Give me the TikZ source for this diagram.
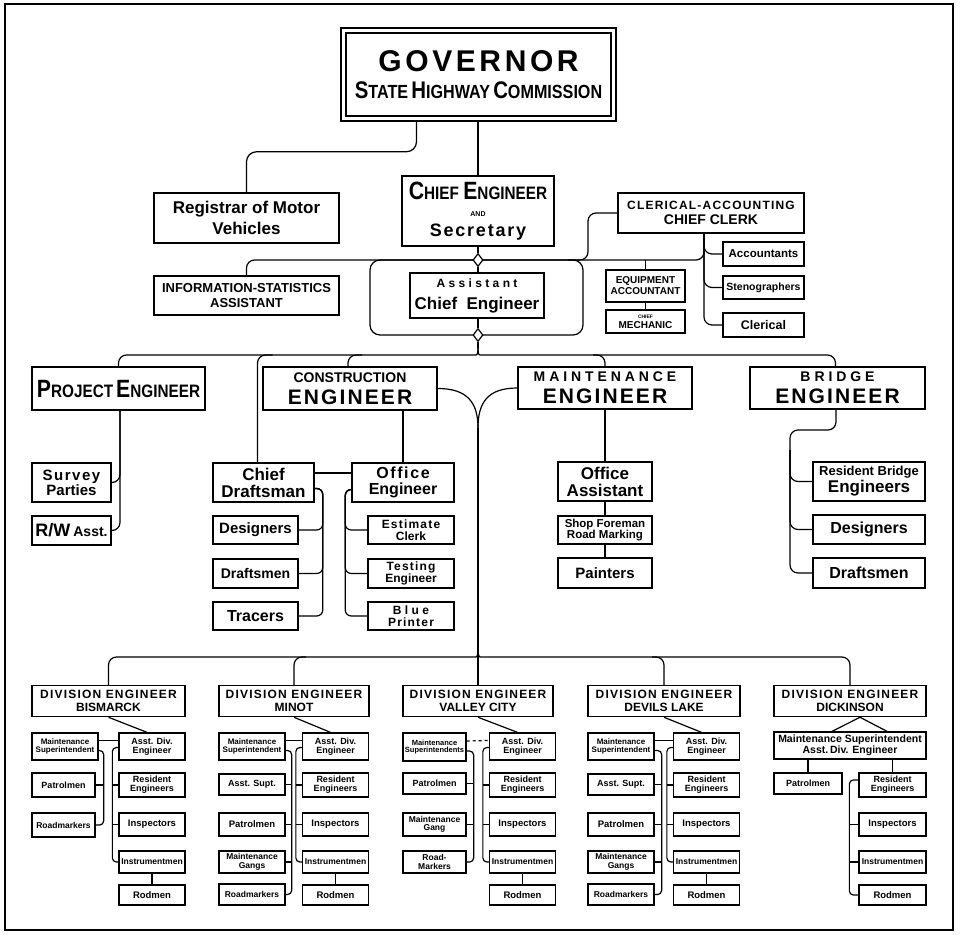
\documentclass[tikz,border=0pt]{standalone}
\usepackage{fontspec}
\newfontfamily\chartfont{Liberation Sans}
\newfontfamily\narrowfont{Liberation Sans}[FakeStretch=0.85]
\newfontfamily\spacedfont{Liberation Sans}[LetterSpace=10]
\newfontfamily\widefont{Liberation Sans}[LetterSpace=28]
\newfontfamily\govfont{Liberation Sans}[LetterSpace=12]
\newcommand\tsz[1]{\fontsize{#1}{#1}\selectfont}
\usepackage{tikz}
\usetikzlibrary{positioning,shapes.geometric}

\begin{document}
\begin{tikzpicture}[
    x=1pt, y=-1pt,
    box/.style={draw, line width=1.5pt, fill=white, align=center, inner sep=0pt},  % every office
    small/.style={box, line width=1.3pt},                                           % division offices
    fsz/.style={font=\chartfont\bfseries\tsz{#1}},                                  % lettering size
    sz/.style 2 args={minimum width=#1pt, minimum height=#2pt},                     % box size
    link/.style={line width=1.2pt},                                                 % plain connector
    elbow/.style={link, rounded corners=8pt},                                       % connector with round turns
    junction/.style={diamond, draw, line width=1.2pt, fill=white, minimum width=10pt, minimum height=13pt, inner sep=0pt}
    ]
    \useasboundingbox (0,0) rectangle (960,934);
    \draw[line width=1.5pt] (5,4) rectangle (953,930);

    % Top of the chart
    \node[box, double, double distance=3.5pt, outer sep=3.25pt, sz={270}{88}, fsz=18] (gov) at (478.5,74.5)
        {{\govfont\tsz{30}GOVERNOR}\\[9pt]{\narrowfont\tsz{24}S\tsz{19}TATE\,\tsz{24}H\tsz{19}IGHWAY\,\tsz{24}C\tsz{19}OMMISSION}};
    \node[box, sz={152}{70}, fsz=16] (chief) at (478,211)
        {{\narrowfont\tsz{25}C\tsz{18}HIEF \tsz{25}E\tsz{18}NGINEER}\\[1pt]{\tsz{7}AND}\\[4pt]{\spacedfont\tsz{18}Secretary}};
    \node[box, sz={185}{50}, fsz=17] (reg) at (246.5,218) {Registrar of Motor\\[4pt]Vehicles};
    \node[box, sz={186}{40}, fsz=12] (cler) at (711,213) {{\spacedfont CLERICAL-ACCOUNTING}\\[3pt]{\tsz{14}CHIEF CLERK}};
    \node[box, sz={185}{39}, fsz=13] (info) at (246.5,295.5) {INFORMATION-STATISTICS\\[2pt]ASSISTANT};
    \node[box, sz={134}{45}, fsz=17] (asst) at (477,295.5) {{\widefont\tsz{12}Assistant}\\[5pt]Chief\ \ Engineer};
    \node[box, sz={79}{32}, fsz=10] (equip) at (645.5,286) {EQUIPMENT\\[1pt]ACCOUNTANT};
    \node[box, sz={79}{23}, fsz=10] (mech) at (645.5,321.5) {{\tsz{5}CHIEF}\\MECHANIC};
    \node[box, sz={81}{24}, fsz=11.5] (acct) at (763.5,254) {Accountants};
    \node[box, sz={81}{23}, fsz=10.5] (steno) at (763.5,287.5) {Stenographers};
    \node[box, sz={81}{24}, fsz=12.5] (cleric) at (763.5,325) {Clerical};

    % Hub round the assistant chief engineer
    \coordinate (hubNW) at (370,260);
    \coordinate (hubSE) at (583,335);
    \coordinate (hubE) at (588,260);
    \coordinate (tip1) at (478,348);
    \coordinate (mainL) at (468,355);
    \coordinate (mainR) at (488,355);

    \draw[elbow, rounded corners=10pt] ([xshift=-62pt]gov.south) -- ++(0,30) -| (reg.north);
    \draw[link] (gov.south -| chief.north) -- (chief.north);
    \draw[link, rounded corners=10pt] (hubNW) rectangle (hubSE);
    \draw[elbow] (info.north) |- (hubE) |- (cler.west);
    \draw[elbow] ([xshift=-20pt]hubE) -| ([xshift=-7pt]cler.south);
    \draw[elbow] ([xshift=-7pt]cler.south) |- (cleric.west);
    \draw[elbow] ([xshift=-7pt]cler.south) |- (acct.west);
    \draw[elbow] ([xshift=-7pt]cler.south) |- (steno.west);
    \draw[link] (equip.north |- hubE) -- (equip.north);
    \draw[link] (equip) -- (mech);
    \node[junction] (j1) at (478,260) {};
    \node[junction] (j2) at (478,335) {};
    \draw[link] (chief) -- (j1);
    \draw[link] (j1.south) -- (j1.south |- asst.north);
    \draw[link] (j2.north |- asst.south) -- (j2.north);
    \draw[link] (j2.south) -- (tip1);

    % Second level
    \node[box, sz={173}{43}, fsz=18] (proj) at (118.5,388.5)
        {\narrowfont\tsz{25}P\tsz{18}ROJECT\,\tsz{25}E\tsz{18}NGINEER};
    \node[box, sz={174}{43}, fsz=14] (cons) at (350,388.5)
        {CONSTRUCTION\\[6pt]{\spacedfont\tsz{21}ENGINEER}};
    \node[box, sz={174}{42}, fsz=14] (maint) at (605,388)
        {{\widefont MAINTENANCE}\\[6pt]{\spacedfont\tsz{21}ENGINEER}};
    \node[box, sz={175}{42}, fsz=14] (bri) at (837.5,388)
        {{\widefont BRIDGE}\\[6pt]{\spacedfont\tsz{21}ENGINEER}};

    \draw[elbow] (proj.north) |- (mainL) .. controls +(8,0) and +(0,8) .. (tip1);
    \draw[elbow] ([xshift=-2pt]bri.north) |- (mainR) .. controls +(-8,0) and +(0,8) .. (tip1);
    \draw[elbow] ([xshift=-12pt]maint.north |- mainL) -| (maint.north);

    % Project engineer
    \node[box, sz={79}{39}, fsz=15] (survey) at (71.5,482.5) {\spacedfont Survey\\Parties};
    \node[box, sz={79}{29}, fsz=18] (rw) at (71.5,530.5) {R/W\,{\tsz{14}Asst.}};
    \draw[elbow] ([xshift=1.5pt]proj.south) |- (survey.east);
    \draw[elbow] ([xshift=1.5pt]proj.south) |- (rw.east);

    % Construction engineer
    \node[box, sz={101}{39}, fsz=17] (cd) at (263.5,482.5) {Chief\\Draftsman};
    \node[box, sz={102}{39}, fsz=16] (oe) at (403,482.5) {\spacedfont Office\\Engineer};
    \node[box, sz={85}{28}, fsz=15] (des) at (255.5,530) {Designers};
    \node[box, sz={85}{29}, fsz=14] (dra) at (255.5,573.5) {Draftsmen};
    \node[box, sz={85}{28}, fsz=16] (tra) at (255.5,616) {Tracers};
    \node[box, sz={86}{28}, fsz=12] (est) at (411,530) {\spacedfont Estimate\\Clerk};
    \node[box, sz={86}{29}, fsz=12] (test) at (411,573.5) {\spacedfont Testing\\Engineer};
    \node[box, sz={86}{28}, fsz=12] (blue) at (411,616) {{\widefont Blue}\\{\spacedfont Printer}};
    \draw[elbow] ([xshift=-6pt]cd.north) |- ([xshift=9pt]cd.north |- mainL);
    \draw[elbow] ([xshift=-2pt]cons.north) |- ([xshift=12pt]cons.north |- mainL);
    \draw[link] (oe.north |- cons.south) -- (oe.north);
    \draw[link] ([yshift=9.5pt]cd.east) -- ([yshift=9.5pt]oe.west);
    \draw[elbow, rounded corners=6pt] ([yshift=-6pt]cd.east) -- ++(8,0) |- (tra.east);
    \draw[elbow, rounded corners=6pt] ([yshift=-6pt]cd.east) -- ++(8,0) |- (des.east);
    \draw[elbow, rounded corners=6pt] ([yshift=-6pt]cd.east) -- ++(8,0) |- (dra.east);
    \draw[elbow, rounded corners=6pt] ([yshift=-7pt]oe.west) -- ++(-6,0) |- (blue.west);
    \draw[elbow, rounded corners=6pt] ([yshift=-7pt]oe.west) -- ++(-6,0) |- (est.west);
    \draw[elbow, rounded corners=6pt] ([yshift=-7pt]oe.west) -- ++(-6,0) |- (test.west);

    % Maintenance engineer
    \node[box, sz={94}{39}, fsz=17] (oa) at (605,481.5) {Office\\Assistant};
    \node[box, sz={94}{28}, fsz=11.5] (shop) at (605,530) {Shop Foreman\\Road Marking};
    \node[box, sz={94}{30}, fsz=15] (paint) at (605,573) {Painters};
    \draw[link] (maint) -- (oa) -- (shop) -- (paint);

    % Bridge engineer
    \node[box, sz={112}{39}, fsz=17] (rbe) at (869,481.5) {{\tsz{13}Resident Bridge}\\Engineers};
    \node[box, sz={112}{29}, fsz=16] (bdes) at (869,529.5) {Designers};
    \node[box, sz={112}{30}, fsz=16] (bdra) at (869,573) {Draftsmen};
    \coordinate (bj) at (790,430);
    \draw[elbow] ([xshift=-1.5pt]bri.south) |- (bj) |- (bdra.west);
    \draw[elbow] ([yshift=-20pt]bj) |- (rbe.west);
    \draw[elbow] ([yshift=-20pt]bj) |- (bdes.west);

    % Trunk down to the divisions
    \coordinate (trunk) at (478,428);
    \coordinate (tip2) at (478,650);
    \coordinate (divL) at (468,657);
    \coordinate (divR) at (488,657);
    \draw[link] (cons.east) .. controls +(30,0) and +(0,-25) .. (trunk);
    \draw[link] (maint.west) .. controls +(-30,0) and +(0,-25) .. (trunk);

    % Division engineers
    \node[box, sz={153}{31}, fsz=12] (bis) at (108.5,701) {\spacedfont DIVISION ENGINEER\\[1pt]BISMARCK};
    \node[box, sz={150}{31}, fsz=12] (min) at (294,701) {\spacedfont DIVISION ENGINEER\\[1pt]MINOT};
    \node[box, sz={150}{31}, fsz=12] (val) at (478,701) {\spacedfont DIVISION ENGINEER\\[1pt]VALLEY CITY};
    \node[box, sz={152}{31}, fsz=12] (dev) at (664,701) {\spacedfont DIVISION ENGINEER\\[1pt]DEVILS LAKE};
    \node[box, sz={152}{31}, fsz=12] (dic) at (850,701) {\spacedfont DIVISION ENGINEER\\[1pt]DICKINSON};
    \draw[link] (trunk) -- (val.north);
    \draw[elbow] (bis.north) |- (divL) .. controls +(8,0) and +(0,7) .. (tip2);
    \draw[elbow] (dic.north) |- (divR) .. controls +(-8,0) and +(0,7) .. (tip2);
    \draw[elbow] (min.north) |- ([xshift=12pt]min.north |- divL);
    \draw[elbow] ([xshift=-12pt]dev.north |- divL) -| (dev.north);

    % Assistant division engineer's column, the same in four divisions
    \foreach \d/\cx in {bis/152, min/335.5, val/522.5, dev/706.5}{
        \node[small, sz={66}{27}, fsz=9] (\d-ade) at (\cx,746.5) {Asst. Div.\\Engineer};
        \node[small, sz={66}{24}, fsz=9] (\d-res) at (\cx,785) {Resident\\Engineers};
        \node[small, sz={66}{23}, fsz=9.5] (\d-ins) at (\cx,824.5) {Inspectors};
        \node[small, sz={66}{22}, fsz=8.5] (\d-inst) at (\cx,862) {Instrumentmen};
        \node[small, sz={66}{20}, fsz=9.5] (\d-rod) at (\cx,895) {Rodmen};
        \draw[link] (\d.south) -- ([xshift=-5pt]\d-ade.north);
        \draw[link, rounded corners=4pt] ([yshift=-1pt]\d-ade.west) -- ++(-6,0) |- (\d-inst.west);
        \draw[link] (\d-res.west) -- ++(-6,0);
        \draw[link] (\d-ins.west) -- ++(-6,0);
        \draw[link] (\d-inst) -- (\d-rod);
    }

    % Maintenance side, Bismarck
    \node[small, sz={66}{27}, fsz=8] (bis-ms) at (65,746.5) {Maintenance\\Superintendent};
    \node[small, sz={63}{24}, fsz=9] (bis-pat) at (63.5,785) {Patrolmen};
    \node[small, sz={63}{24}, fsz=8.5] (bis-rm) at (63.5,825) {Roadmarkers};
    \draw[link] ([yshift=6pt]bis-ms.east) -- ([yshift=6pt]bis-ade.west);
    \draw[link, rounded corners=4pt] ([yshift=-4pt]bis-ms.east) -- ++(5,0) |- (bis-rm.east);
    \draw[link] (bis-pat.east) -- ++(8,0);

    % Maintenance side, Minot
    \node[small, sz={66}{27}, fsz=8] (min-ms) at (252,746.5) {Maintenance\\Superintendent};
    \node[small, sz={66}{21}, fsz=9] (min-as) at (252,784.5) {Asst. Supt.};
    \node[small, sz={66}{23}, fsz=9.5] (min-pat) at (252,824.5) {Patrolmen};
    \node[small, sz={66}{22}, fsz=8.5] (min-mg) at (252,862) {Maintenance\\Gangs};
    \node[small, sz={66}{21}, fsz=8.5] (min-rm) at (252,894.5) {Roadmarkers};
    \draw[link] ([yshift=6pt]min-ms.east) -- ([yshift=6pt]min-ade.west);
    \draw[link, rounded corners=4pt] ([yshift=-4pt]min-ms.east) -- ++(6,0) |- (min-rm.east);
    \draw[link] (min-as.east) -- ++(6,0);
    \draw[link] (min-pat.east) -- ++(6,0);
    \draw[link] (min-mg.east) -- ++(6,0);

    % Maintenance side, Valley City
    \node[small, sz={63}{28}, fsz=7.5] (val-ms) at (434.5,747) {Maintenance\\Superintendents};
    \node[small, sz={63}{21}, fsz=9] (val-pat) at (434.5,783.5) {Patrolmen};
    \node[small, sz={63}{23}, fsz=8.5] (val-mg) at (434.5,824.5) {Maintenance\\Gang};
    \node[small, sz={63}{22}, fsz=8.5] (val-rm) at (434.5,862) {Road-\\Markers};
    \draw[link, dashed] ([yshift=6pt]val-ms.east) -- ([yshift=6pt]val-ade.west);
    \draw[link, rounded corners=4pt] ([yshift=-4pt]val-ms.east) -- ++(7,0) |- (val-rm.east);
    \draw[link] (val-pat.east) -- ++(7,0);
    \draw[link] (val-mg.east) -- ++(7,0);

    % Maintenance side, Devils Lake
    \node[small, sz={66}{27}, fsz=8] (dev-ms) at (621,746.5) {Maintenance\\Superintendent};
    \node[small, sz={66}{21}, fsz=9] (dev-as) at (621,784.5) {Asst. Supt.};
    \node[small, sz={66}{23}, fsz=9.5] (dev-pat) at (621,824.5) {Patrolmen};
    \node[small, sz={66}{22}, fsz=8.5] (dev-mg) at (621,862) {Maintenance\\Gangs};
    \node[small, sz={66}{21}, fsz=8.5] (dev-rm) at (621,894.5) {Roadmarkers};
    \draw[link] ([yshift=6pt]dev-ms.east) -- ([yshift=6pt]dev-ade.west);
    \draw[link, rounded corners=4pt] ([yshift=-4pt]dev-ms.east) -- ++(7,0) |- (dev-rm.east);
    \draw[link] (dev-as.east) -- ++(7,0);
    \draw[link] (dev-pat.east) -- ++(7,0);
    \draw[link] (dev-mg.east) -- ++(7,0);

    % Dickinson
    \node[small, sz={152}{27}, fsz=10.5] (dic-ms) at (850,745.5) {Maintenance Superintendent\\Asst.\,Div. Engineer};
    \node[small, sz={68}{21}, fsz=9] (dic-pat) at (808,783.5) {Patrolmen};
    \node[small, sz={67}{24}, fsz=9] (dic-res) at (892.5,785) {Resident\\Engineers};
    \node[small, sz={67}{23}, fsz=9.5] (dic-ins) at (892.5,824.5) {Inspectors};
    \node[small, sz={67}{22}, fsz=8.5] (dic-inst) at (892.5,862) {Instrumentmen};
    \node[small, sz={67}{20}, fsz=9.5] (dic-rod) at (892.5,895) {Rodmen};
    \draw[link] ([xshift=10pt]dic.south) -- ([xshift=-18pt]dic-ms.north);
    \draw[link] ([xshift=10pt]dic.south) -- ([xshift=37pt]dic-ms.north);
    \draw[link] (dic-pat.north |- dic-ms.south) -- (dic-pat.north);
    \draw[link] (dic-res.north |- dic-ms.south) -- (dic-res.north);
    \draw[link, rounded corners=4pt] ([yshift=5pt]dic-res.west) -- ++(-9,0) |- (dic-rod.west);
    \draw[link] (dic-ins.west) -- ++(-9,0);
    \draw[link] (dic-inst.west) -- ++(-9,0);

\end{tikzpicture}
\end{document}
